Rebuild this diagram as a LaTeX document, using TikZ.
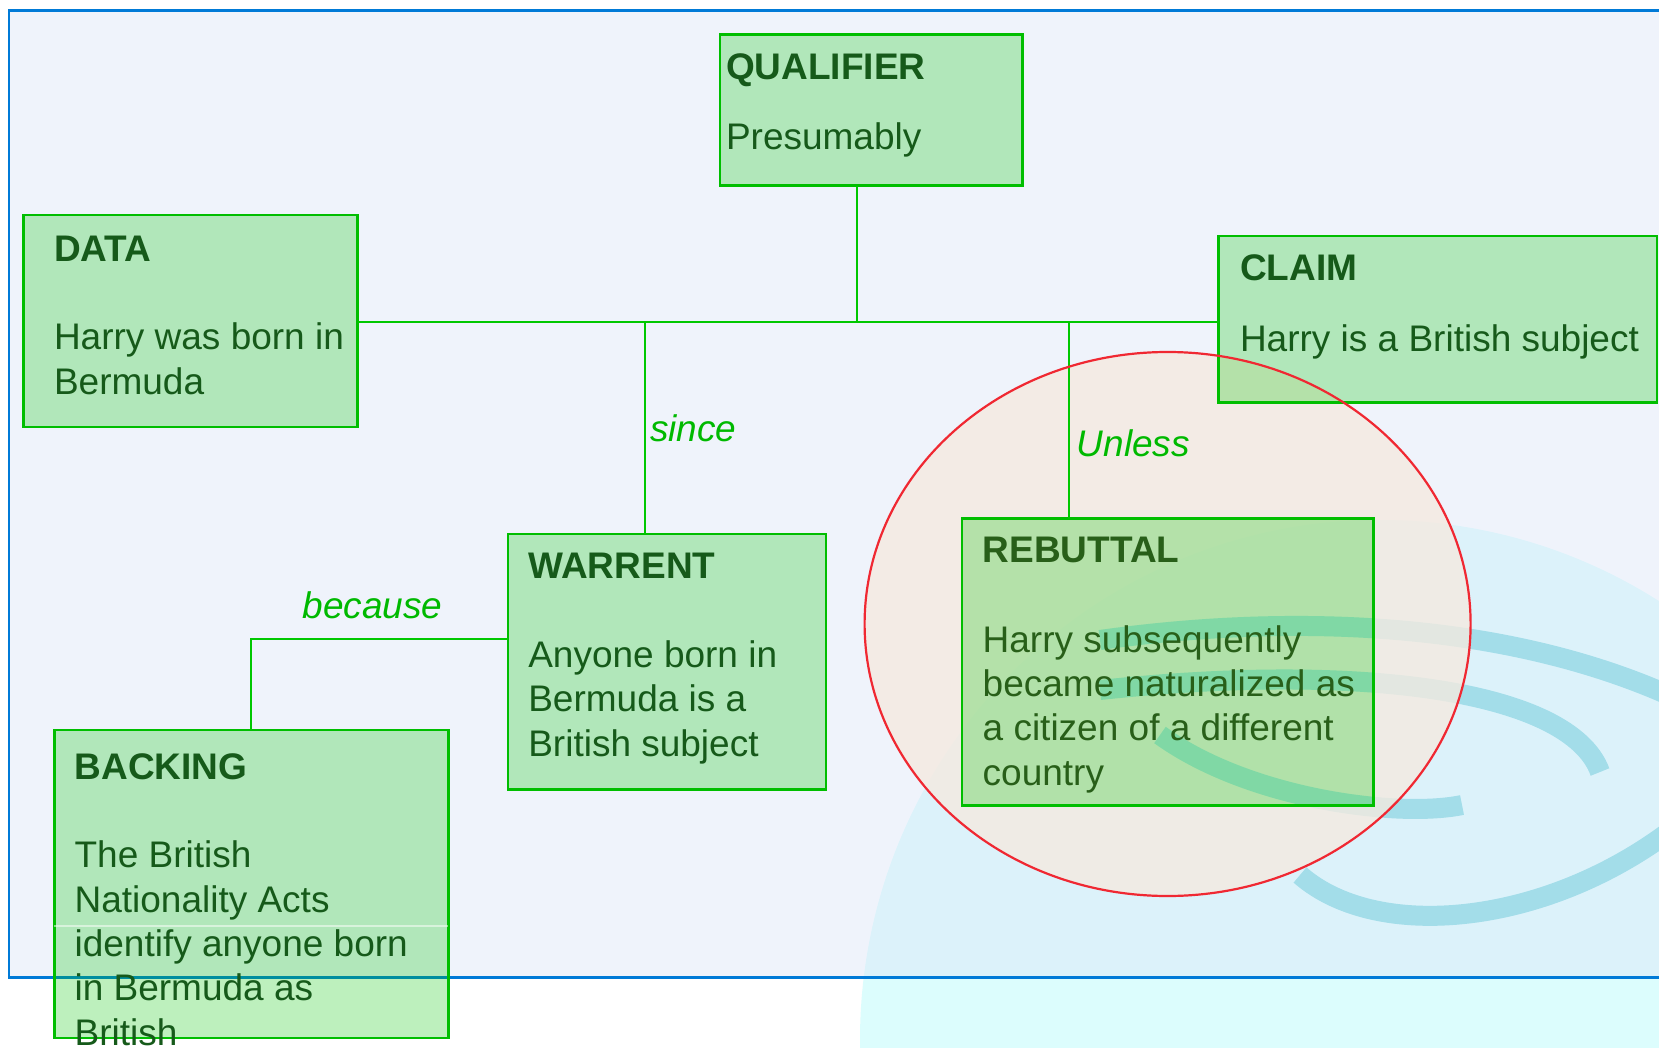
\documentclass[tikz,border=0pt]{standalone}
\usepackage{fontspec}
\setmainfont{Liberation Sans}
\usetikzlibrary{calc}

\definecolor{framefill}{RGB}{220,229,248}
\definecolor{frameblue}{RGB}{0,122,215}
\definecolor{boxline}{RGB}{0,190,0}
\definecolor{linkgreen}{RGB}{0,200,0}
\definecolor{labelgreen}{RGB}{0,185,0}
\definecolor{inkgreen}{RGB}{22,90,26}
\definecolor{inkolive}{RGB}{40,95,25}
\definecolor{wmdisk}{RGB}{220,253,253}
\definecolor{wmband}{RGB}{120,215,222}
\definecolor{peach}{RGB}{244,234,224}
\definecolor{ringred}{RGB}{240,40,50}

% swirl of the background logo
\newcommand\swirlbands{%
  \draw[band] (1100,640) .. controls (1300,612) and (1520,622) .. (1690,705);
  \draw[band] (1100,690) .. controls (1360,662) and (1570,690) .. (1600,772);
  \draw[band] (1160,735) .. controls (1250,800) and (1400,818) .. (1462,805);
  \draw[band] (1300,875) .. controls (1380,945) and (1560,925) .. (1690,815);
}

\begin{document}
\begin{tikzpicture}[x=1pt,y=-1pt,
  band/.style={draw=wmband, line width=20pt},
  box/.style={rectangle, draw=boxline, line width=2.5pt, fill=linkgreen,
    fill opacity=0.26, inner sep=0pt, outer sep=0pt, anchor=north west},
  link/.style={draw=linkgreen, line width=2.2pt},
  % multi-line bodies are placed by the baseline of their last line
  txt/.style={anchor=base west, inner sep=0pt, outer sep=0pt, text=inkgreen,
    align=left, font=\fontsize{37}{44.3}\selectfont},
  head/.style={txt, font=\fontsize{37}{44.3}\selectfont\bfseries},
  linklabel/.style={anchor=base west, inner sep=0pt, text=labelgreen,
    font=\fontsize{37}{44.3}\selectfont\itshape}]

\useasboundingbox (0,0) rectangle (1659,1048);
\clip (0,0) rectangle (1659,1048);
\fill[white] (0,0) rectangle (1659,1048);

% background logo
\fill[wmdisk] (1380,1040) circle [radius=520];
\swirlbands

% frame
\fill[framefill, fill opacity=0.43] (8.9,10.3) rectangle (1690,977.5);
\draw[frameblue, line width=2.5pt] (1690,10.3) -- (8.9,10.3) -- (8.9,977.5) -- (1690,977.5);

% rebuttal area
\fill[peach, fill opacity=0.8] (1167.6,624) ellipse [x radius=303, y radius=272];
\begin{scope}
  \clip (962,518.7) rectangle (1373.3,805.3);
  \begin{scope}[opacity=0.5]\swirlbands\end{scope}
\end{scope}

% boxes
\node[box, minimum width=334pt,   minimum height=212pt]   (data)      at (23.7,215)   {};
\node[box, minimum width=302.7pt, minimum height=151.4pt] (qualifier) at (720,34.3)   {};
\node[box, minimum width=438.3pt, minimum height=166.7pt] (claim)     at (1218.7,236) {};
\node[box, minimum width=318pt,   minimum height=255.3pt] (warrent)   at (508,534)    {};
\node[box, minimum width=411.3pt, minimum height=286.6pt] (rebuttal)  at (962,518.7)  {};
\node[box, minimum width=394pt,   minimum height=308pt]   (backing)   at (54.3,730)   {};
\draw[white, opacity=0.5, line width=2pt] (backing.west |- 0,926.4) -- (backing.east |- 0,926.4);

% connectors
\coordinate (qj) at (856.7,321.7);
\coordinate (wj) at (644.7,321.7);
\coordinate (rj) at (1068.7,321.7);
\coordinate (bj) at (250.9,638.7);
\draw[link] (data.east |- qj) -- (claim.west |- qj);
\draw[link] (qualifier.south -| qj) -- (qj);
\draw[link] (wj) -- (wj |- warrent.north);
\draw[link] (rj) -- (rj |- rebuttal.north);
\draw[link] (bj -| warrent.west) -- (bj) -- (bj |- backing.north);

\draw[ringred, line width=2.2pt] (1167.6,624) ellipse [x radius=303, y radius=272];

% texts
\node[head] (data-h) at (54,261.7) {DATA};
\node[txt]  (data-b) at (54,394) {Harry was born in\\Bermuda};
\node[head] (qualifier-h) at (726,79.3) {QUALIFIER};
\node[txt]  (qualifier-b) at (726,149.3) {Presumably};
\node[head] (claim-h) at (1240,281) {CLAIM};
\node[txt]  (claim-b) at (1240,351.7) {Harry is a British subject};
\node[head] (warrent-h) at (528.3,578.3) {WARRENT};
\node[txt]  (warrent-b) at (528.3,756) {Anyone born in\\Bermuda is a\\British subject};
\node[head, text=inkolive] (rebuttal-h) at (982.7,562.7) {REBUTTAL};
\node[txt, text=inkolive]  (rebuttal-b) at (982.7,785) {Harry subsequently\\became naturalized as\\a citizen of a different\\country};
\node[head] (backing-h) at (74.6,779.6) {BACKING};
\node[txt]  (backing-b) at (74.6,1045) {The British\\Nationality Acts\\identify anyone born\\in Bermuda as\\British};

\node[linklabel] (since)   at (650,441.7)   {since};
\node[linklabel] (unless)  at (1076.7,456)  {Unless};
\node[linklabel] (because) at (302.5,618.8) {because};
\end{tikzpicture}
\end{document}
